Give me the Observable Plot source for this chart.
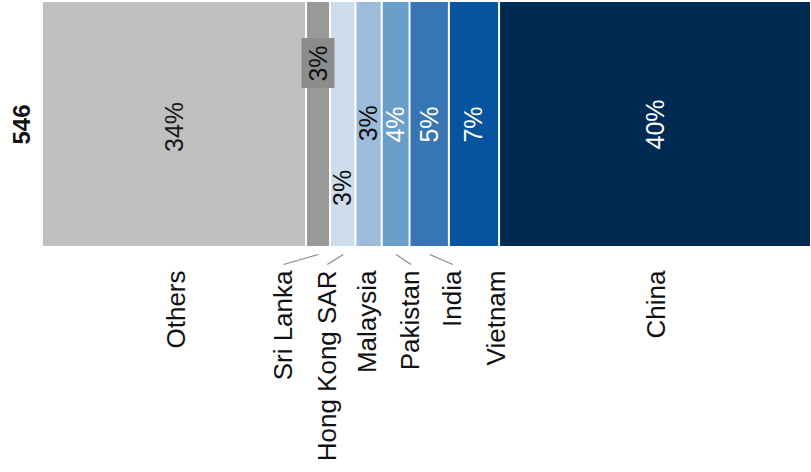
<!DOCTYPE html>
<html><head><meta charset="utf-8">
<script src="https://cdn.jsdelivr.net/npm/d3@7"></script>
<script src="https://cdn.jsdelivr.net/npm/@observablehq/plot@0.6"></script>
<style>body{margin:0;background:#fff}</style>
</head><body><div id="chart"></div>
<script>
// ---- data ----
const categories = ["Others", "Sri Lanka", "Hong Kong SAR", "Malaysia", "Pakistan", "India", "Vietnam", "China"];
const shares = [34.2, 3.1, 3.3, 3.4, 3.6, 5.1, 6.5, 40.4];
const totalCount = 546;

// ---- style / layout ----
const colors = ["#c0c0c0", "#999999", "#cedded", "#9dbbda", "#699fc8", "#3875b4", "#0653a0", "#002a52"];
const pctColors = ["#1a1a1a", "#111111", "#111111", "#111111", "#ffffff", "#ffffff", "#ffffff", "#ffffff"];
const W = 811, H = 472, mL = 42, mR = 0, mT = 2, mB = 226;
const labelShiftPx = [2, -35, -16, -1, 15, 23, 22, 1];
const leader = [false, true, true, false, true, true, false, false];
const pctY = [0.49, 0.75, 0.24, 0.505, 0.5, 0.5, 0.5, 0.5];
const boxed = [false, true, false, false, false, false, false, false];
const font = "'Liberation Sans', Arial, Helvetica, sans-serif";

const total = d3.sum(shares);
const unitPerPx = total / (W - mL - mR);
const pxY = 1 / (H - mT - mB);
const ends = d3.cumsum(shares);
const rows = categories.map((name, i) => ({
  name, value: shares[i], i,
  x0: ends[i] - shares[i], x1: ends[i],
  mid: ends[i] - shares[i] / 2,
  labelX: ends[i] - shares[i] / 2 + labelShiftPx[i] * unitPerPx,
  pct: Math.round(shares[i]) + "%",
  py: pctY[i]
}));

const chart = Plot.plot({
  width: W, height: H,
  marginLeft: mL, marginRight: mR, marginTop: mT, marginBottom: mB,
  x: {domain: [0, total], axis: null},
  y: {domain: [0, 1], axis: null},
  style: {fontFamily: font, background: "#fff"},
  marks: [
    Plot.rect(rows, {x1: "x0", x2: "x1", y1: 0, y2: 1, fill: d => colors[d.i], insetLeft: 1, insetRight: 1}),
    Plot.rect(rows.filter(d => boxed[d.i]), {x1: "mid", x2: "mid", y1: "py", y2: "py",
      insetLeft: -16.5, insetRight: -16.5, insetTop: -25, insetBottom: -25, fill: "#8c8c8c"}),
    Plot.text(rows, {x: "mid", y: "py", text: "pct", rotate: -90, fontSize: 25,
      fill: d => pctColors[d.i]}),
    Plot.link(rows.filter(d => leader[d.i]), {x1: "mid", x2: "labelX", y1: -8 * pxY, y2: -18 * pxY,
      stroke: "#8a8a8a", strokeWidth: 1.2}),
    Plot.text(rows, {x: "labelX", y: -24 * pxY, text: "name", rotate: -90, textAnchor: "end",
      fontSize: 26, fill: "#111"}),
    Plot.text([totalCount], {x: -20 * unitPerPx, y: 0.5, text: d => String(d), rotate: -90,
      textAnchor: "middle", fontSize: 24, fontWeight: "bold", fill: "#111"})
  ]
});
document.getElementById("chart").appendChild(chart);
</script>
</body></html>
